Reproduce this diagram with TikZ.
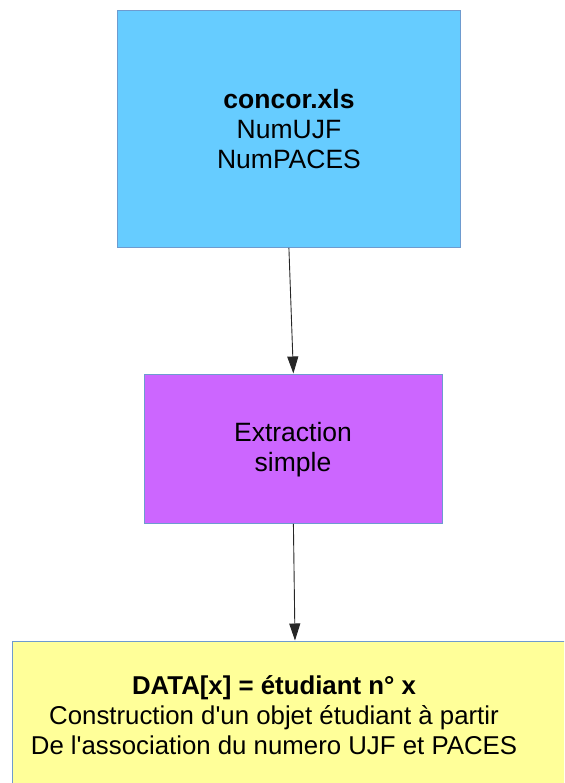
\documentclass[tikz,border=0pt]{standalone}
\usepackage{fontspec}
\setmainfont{Liberation Sans}
\usetikzlibrary{arrows.meta,calc}
\definecolor{topblue}{HTML}{66CCFF}
\definecolor{midpurple}{HTML}{CC66FF}
\definecolor{botyellow}{HTML}{FFFF99}
\definecolor{boxborder}{HTML}{6E9BCF}
\tikzset{
  box/.style={draw=boxborder, line width=0.8pt, inner sep=0pt, anchor=north west},
  boxtext/.style={align=center, font=\fontsize{26.5}{30}\selectfont, inner sep=0pt},
  flow/.style={draw=black!85, line width=0.9pt, -{Triangle[length=17pt,width=11pt]}, shorten >=0.5pt}
}
\begin{document}
\begin{tikzpicture}[x=1pt,y=-1pt]
\useasboundingbox (0,0) rectangle (564,783);
\clip (0,0) rectangle (564,783);
\node[box, fill=topblue, minimum width=343pt, minimum height=237pt] (top) at (117,10) {};
\node[boxtext] (toptext) at (289,129) {\textbf{concor.xls}\\NumUJF\\NumPACES};
\node[box, fill=midpurple, minimum width=298pt, minimum height=149pt] (mid) at (144,374) {};
\node[boxtext] (midtext) at (293,450) {Extraction\\simple};
\node[box, fill=botyellow, minimum width=600pt, minimum height=200pt] (bot) at (12,641) {};
\node[boxtext, font=\fontsize{25.8}{30}\selectfont] (bottext) at (274,715) {\textbf{DATA[x] = étudiant n° x}\\Construction d\textquotesingle un objet étudiant à partir\\De l\textquotesingle association du numero UJF et PACES};
\coordinate (botin) at ($(bot.north west)+(283,0)$);
\draw[flow] (top.south) -- (mid.north);
\draw[flow] (mid.south) -- (botin);
\end{tikzpicture}
\end{document}
